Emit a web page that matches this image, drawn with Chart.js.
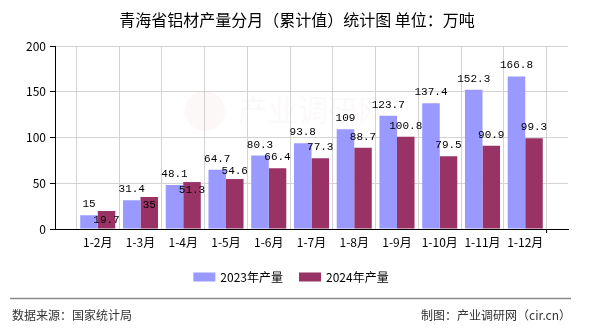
<!DOCTYPE html>
<html>
<head>
<meta charset="utf-8">
<script src="https://cdn.jsdelivr.net/npm/chart.js@4/dist/chart.umd.min.js"></script>
<style>
  html, body { margin: 0; padding: 0; background: #ffffff; }
  #wrap { width: 590px; height: 330px; }
</style>
</head>
<body>
<div id="wrap"><canvas id="c" width="590" height="330"></canvas></div>
<script>
// Cumulative monthly aluminium output, Qinghai (10k tonnes)
const months = ['1-2月', '1-3月', '1-4月', '1-5月', '1-6月', '1-7月', '1-8月', '1-9月', '1-10月', '1-11月', '1-12月'];
const output2023 = [15, 31.4, 48.1, 64.7, 80.3, 93.8, 109, 123.7, 137.4, 152.3, 166.8];
const output2024 = [19.7, 35, 51.3, 54.6, 66.4, 77.3, 88.7, 100.8, 79.5, 90.9, 99.3];
const yTicks = [0, 50, 100, 150, 200];
const seriesNames = ['2023年产量', '2024年产量'];
const titleText = '青海省铝材产量分月（累计值）统计图 单位：万吨';
const sourceText = '数据来源：国家统计局';
const creditText = '制图：产业调研网（cir.cn）';
const watermarkText = '产业调研网';

const COLORS = ['#9999ff', '#993366'];
const CJK = '"Noto Sans CJK SC", "Noto Sans", sans-serif';

// One empty slot at each end of the category axis so the bars sit between gridlines
const axisLabels = [''].concat(months, ['']);
const pad = arr => [null].concat(arr, [null]);

const decorPlugin = {
  id: 'decor',
  beforeDatasetsDraw(chart) {
    const ctx = chart.ctx;
    ctx.save();
    ctx.font = '30px ' + CJK;
    ctx.fillStyle = 'rgba(215, 170, 170, 0.07)';
    ctx.textAlign = 'left';
    ctx.textBaseline = 'middle';
    ctx.fillText(watermarkText, 238, 110);
    ctx.beginPath();
    ctx.arc(205, 111, 20, 0, Math.PI * 2);
    ctx.fillStyle = 'rgba(230, 160, 150, 0.07)';
    ctx.fill();
    ctx.restore();
  },
  afterDraw(chart) {
    const ctx = chart.ctx;
    ctx.save();
    // title
    ctx.fillStyle = '#000';
    ctx.font = '16px ' + CJK;
    ctx.textAlign = 'center';
    ctx.textBaseline = 'middle';
    ctx.fillText(titleText, 297, 20);

    // legend
    ctx.font = '12px ' + CJK;
    const boxW = 22, boxH = 9, gapText = 5, gapItem = 16;
    const widths = seriesNames.map(n => boxW + gapText + ctx.measureText(n).width);
    const total = widths.reduce((a, b) => a + b, 0) + gapItem * (widths.length - 1);
    let x = 291 - total / 2;
    const ly = 277;
    seriesNames.forEach((name, i) => {
      ctx.fillStyle = chart.data.datasets[i].backgroundColor;
      ctx.fillRect(x, ly - boxH / 2, boxW, boxH);
      ctx.fillStyle = '#000';
      ctx.textAlign = 'left';
      ctx.fillText(name, x + boxW + gapText, ly);
      x += widths[i] + gapItem;
    });

    // separator and footer
    ctx.strokeStyle = '#8a8a8a';
    ctx.lineWidth = 1.5;
    ctx.beginPath();
    ctx.moveTo(10, 298.5);
    ctx.lineTo(571, 298.5);
    ctx.stroke();
    ctx.fillStyle = '#333';
    ctx.font = '12px ' + CJK;
    ctx.textAlign = 'left';
    ctx.fillText(sourceText, 12, 315);
    ctx.textAlign = 'right';
    ctx.fillText(creditText, 571, 315);
    ctx.restore();
  }
};

// Value labels above the bars; a 2024 label that would collide with the 2023 label is moved below it
const valueLabelPlugin = {
  id: 'valueLabels',
  afterDatasetsDraw(chart) {
    const ctx = chart.ctx;
    const m0 = chart.getDatasetMeta(0), m1 = chart.getDatasetMeta(1);
    const d0 = chart.data.datasets[0].data, d1 = chart.data.datasets[1].data;
    ctx.save();
    ctx.font = '11px "Liberation Mono", "DejaVu Sans Mono", monospace';
    ctx.fillStyle = '#000';
    ctx.textAlign = 'center';
    ctx.textBaseline = 'alphabetic';
    for (let i = 0; i < d0.length; i++) {
      if (d0[i] == null) continue;
      const e0 = m0.data[i], e1 = m1.data[i];
      const y0 = e0.y - 8;
      let y1 = e1.y - 8;
      const diff = y1 - y0;
      if (Math.abs(diff) < 12) y1 = y0 + (diff < 0 ? 16 : 12);
      ctx.fillText(String(d0[i]), e0.x, y0);
      ctx.fillText(String(d1[i]), e1.x, y1);
    }
    ctx.restore();
  }
};

new Chart(document.getElementById('c'), {
  type: 'bar',
  data: {
    labels: axisLabels,
    datasets: [
      { label: seriesNames[0], data: pad(output2023), backgroundColor: COLORS[0] },
      { label: seriesNames[1], data: pad(output2024), backgroundColor: COLORS[1] }
    ]
  },
  options: {
    responsive: false,
    animation: false,
    devicePixelRatio: 1,
    layout: { padding: { left: 0, right: 22, top: 46, bottom: 71 } },
    datasets: { bar: { categoryPercentage: 0.82, barPercentage: 1 } },
    plugins: { legend: { display: false }, title: { display: false }, tooltip: { enabled: false } },
    scales: {
      x: {
        offset: false,
        grid: {
          color: '#d3d3d3',
          lineWidth: 1,
          tickLength: 4,
          tickColor: c => (c.index === 0 || c.index === axisLabels.length - 1) ? '#000' : 'rgba(0,0,0,0)'
        },
        border: { color: '#000', width: 1 },
        ticks: { color: '#000', font: { size: 12, family: CJK }, padding: 2, maxRotation: 0, autoSkip: false },
        afterFit: s => { s.height = 30; }
      },
      y: {
        min: 0,
        max: 200,
        afterBuildTicks: s => { s.ticks = yTicks.map(v => ({ value: v })); },
        grid: { color: '#d3d3d3', lineWidth: 1, tickLength: 5, tickColor: '#000' },
        border: { color: '#000', width: 1 },
        ticks: { color: '#000', font: { size: 12, family: CJK }, padding: 4 },
        afterFit: s => { s.width = 55; }
      }
    }
  },
  plugins: [decorPlugin, valueLabelPlugin]
});
</script>
</body>
</html>
